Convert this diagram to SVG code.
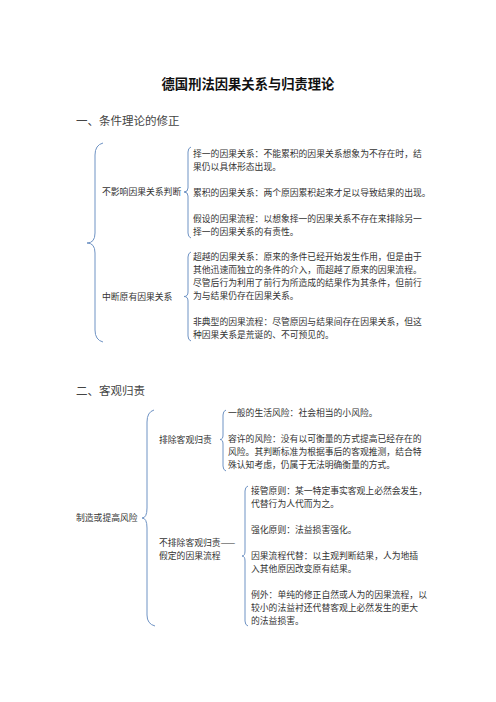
<svg xmlns="http://www.w3.org/2000/svg" width="496" height="702" viewBox="0 0 496 702">
<style>
.t{font-family:"Noto Sans CJK SC","Liberation Serif",sans-serif;font-size:8.8px;fill:#333}
.h{font-family:"Noto Sans CJK SC","Liberation Serif",sans-serif;font-size:11.5px;fill:#444}
.title{font-family:"Noto Sans CJK SC","Liberation Sans",sans-serif;font-size:13.3px;font-weight:bold;fill:#111}
.b{fill:none;stroke:#6f93c4;stroke-width:1}
</style>
<rect width="496" height="702" fill="#fff"/>
<g id="title"><text class="title" x="248" y="88.8" text-anchor="middle">德国刑法因果关系与归责理论</text></g>
<g id="heading1"><text class="h" x="76" y="125">一、条件理论的修正</text></g>
<g id="heading2"><text class="h" x="76" y="395">二、客观归责</text></g>

<g id="connectors">
<path class="b" d="M103,143 Q95,145 95,155 L95,233 Q95,243 87,243 Q95,243 95,253 L95,330 Q95,340 103,342"/>
<path class="b" d="M191,147 Q188,148 188,152 L188,188 Q188,192 184,192 Q188,192 188,196 L188,233 Q188,237 191,238"/>
<path class="b" d="M191,252 Q188,253 188,257 L188,292 Q188,296.5 184,296.5 Q188,296.5 188,301 L188,336 Q188,340 191,341"/>
<path class="b" d="M154,410 Q147,412 147,422 L147,508 Q147,518 142,518 Q147,518 147,528 L147,615 Q147,624 155,626"/>
<path class="b" d="M226,410 Q223,411 223,415 L223,435 Q223,439.5 220,439.5 Q223,439.5 223,444 L223,466 Q223,470 226,471"/>
<path class="b" d="M248,486 Q245,487 245,491 L245,551 Q245,556 242,556 Q245,556 245,561 L245,621 Q245,625 248,626"/>
</g>

<g id="node-bu-yingxiang"><text class="t" x="102" y="195.2">不影响因果关系判断</text></g>
<g id="node-zhongduan"><text class="t" x="102" y="300.2">中断原有因果关系</text></g>
<g id="node-zhizao"><text class="t" x="76" y="521.2">制造或提高风险</text></g>
<g id="node-paichu"><text class="t" x="159" y="442.7">排除客观归责</text></g>
<g id="node-bupaichu">
<text class="t" x="159" y="546.2">不排除客观归责——</text>
<text class="t" x="159" y="559.2">假定的因果流程</text>
</g>

<g id="node-a">
<text class="t" x="193" y="157.2">择一的因果关系：不能累积的因果关系想象为不存在时，结</text>
<text class="t" x="193" y="170.2">果仍以具体形态出现。</text>
<text class="t" x="193" y="196.2">累积的因果关系：两个原因累积起来才足以导致结果的出现。</text>
<text class="t" x="193" y="222.2">假设的因果流程：以想象择一的因果关系不存在来排除另一</text>
<text class="t" x="193" y="235.2">择一的因果关系的有责性。</text>
</g>
<g id="node-b">
<text class="t" x="193" y="260.2">超越的因果关系：原来的条件已经开始发生作用，但是由于</text>
<text class="t" x="193" y="273.2">其他迅速而独立的条件的介入，而超越了原来的因果流程。</text>
<text class="t" x="193" y="286.2">尽管后行为利用了前行为所造成的结果作为其条件，但前行</text>
<text class="t" x="193" y="299.2">为与结果仍存在因果关系。</text>
<text class="t" x="193" y="325.2">非典型的因果流程：尽管原因与结果间存在因果关系，但这</text>
<text class="t" x="193" y="338.2">种因果关系是荒诞的、不可预见的。</text>
</g>
<g id="node-c">
<text class="t" x="228" y="416.2">一般的生活风险：社会相当的小风险。</text>
<text class="t" x="228" y="442.2">容许的风险：没有以可衡量的方式提高已经存在的</text>
<text class="t" x="228" y="455.2">风险。其判断标准为根据事后的客观推测，结合特</text>
<text class="t" x="228" y="468.2">殊认知考虑，仍属于无法明确衡量的方式。</text>
</g>
<g id="node-d">
<text class="t" x="251" y="494.2">接管原则：某一特定事实客观上必然会发生，</text>
<text class="t" x="251" y="507.2">代替行为人代而为之。</text>
<text class="t" x="251" y="533.2">强化原则：法益损害强化。</text>
<text class="t" x="251" y="559.2">因果流程代替：以主观判断结果，人为地插</text>
<text class="t" x="251" y="572.2">入其他原因改变原有结果。</text>
<text class="t" x="251" y="598.2">例外：单纯的修正自然或人为的因果流程，以</text>
<text class="t" x="251" y="611.2">较小的法益衬还代替客观上必然发生的更大</text>
<text class="t" x="251" y="624.2">的法益损害。</text>
</g>
</svg>
